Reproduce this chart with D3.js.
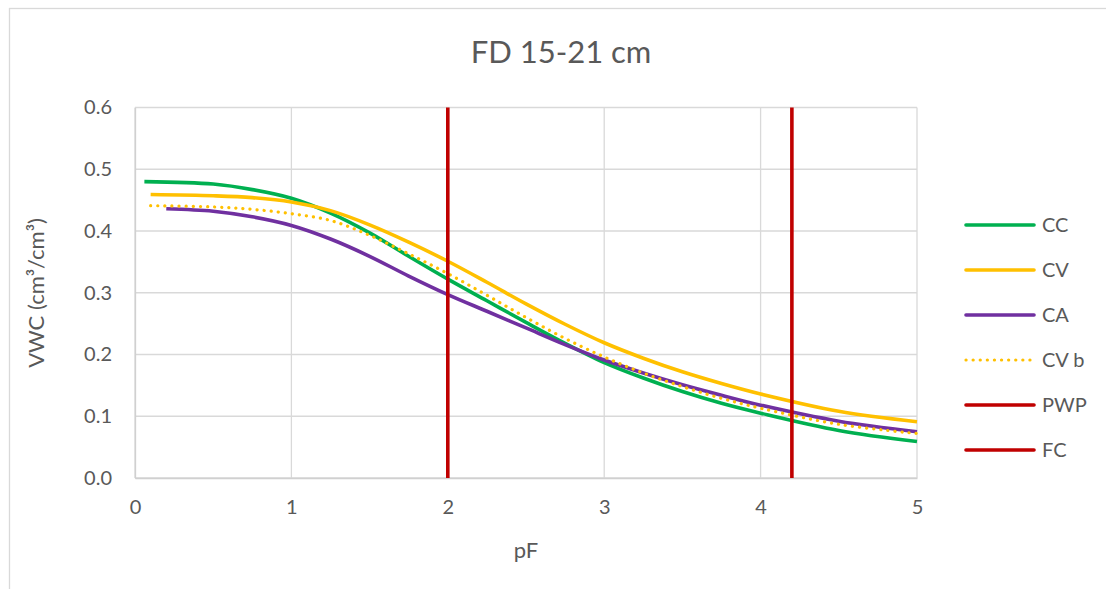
<!DOCTYPE html>
<html><head><meta charset="utf-8">
<script src="https://cdn.jsdelivr.net/npm/d3@7"></script>
<style>
html,body{margin:0;padding:0;background:#fff;overflow:hidden;}
text{font-family:Lato,"Open Sans",sans-serif;fill:#595959;}
</style></head>
<body><svg id="c" width="1106" height="589"></svg>
<script>
const title = "FD 15-21 cm";
const xTicks = [0,1,2,3,4,5];
const yTicks = [0.0,0.1,0.2,0.3,0.4,0.5,0.6];

const ccPF  = [0.06,0.5,0.75,1.0,1.25,1.5,1.75,2.0,2.25,2.5,2.75,3.0,3.25,3.5,3.75,4.0,4.5,5.0];
const ccVWC = [0.480,0.476,0.467,0.453,0.429,0.397,0.359,0.322,0.287,0.252,0.218,0.187,0.162,0.140,0.121,0.105,0.077,0.059];

const cvPF  = [0.1,0.5,0.75,1.0,1.25,1.5,1.75,2.0,2.25,2.5,2.75,3.0,3.25,3.5,3.75,4.0,4.5,5.0];
const cvVWC = [0.459,0.457,0.454,0.447,0.433,0.410,0.382,0.351,0.317,0.282,0.249,0.219,0.194,0.172,0.153,0.136,0.108,0.091];

const caPF  = [0.2,0.5,0.75,1.0,1.25,1.5,1.75,2.0,2.25,2.5,2.75,3.0,3.25,3.5,3.75,4.0,4.5,5.0];
const caVWC = [0.436,0.432,0.423,0.409,0.387,0.359,0.327,0.297,0.270,0.243,0.216,0.191,0.170,0.151,0.134,0.118,0.092,0.075];

const cvbPF  = [0.1,0.5,0.75,1.0,1.25,1.5,1.75,2.0,2.25,2.5,2.75,3.0,3.25,3.5,3.75,4.0,4.5,5.0];
const cvbVWC = [0.441,0.439,0.435,0.428,0.417,0.393,0.363,0.331,0.296,0.260,0.226,0.196,0.170,0.148,0.129,0.113,0.087,0.072];

const pwpPF = [4.2,4.2];
const pwpVWC = [0,0.6];
const fcPF = [2,2];
const fcVWC = [0,0.6];

const seriesNames = ["CC","CV","CA","CV b","PWP","FC"];
const seriesColors = ["#00B050","#FFC000","#7030A0","#FFC000","#C00000","#C00000"];
const seriesDash = [null,null,null,"0.1 7",null,null];

const svg = d3.select("#c");
const L=135, R=917, T=107.5, B=478;
const x = d3.scaleLinear().domain([0,5]).range([L,R]);
const y = d3.scaleLinear().domain([0,0.6]).range([B,T]);

// outer chart border
svg.append("rect").attr("x",9.5).attr("y",8.5).attr("width",1120).attr("height",620)
  .attr("fill","none").attr("stroke","#d9d9d9").attr("stroke-width",1.3);

// gridlines
svg.append("g").selectAll("line").data(yTicks).join("line")
  .attr("x1",L).attr("x2",R).attr("y1",d=>y(d)).attr("y2",d=>y(d))
  .attr("stroke","#d9d9d9").attr("stroke-width",1.3);
svg.append("g").selectAll("line").data(xTicks).join("line")
  .attr("y1",T).attr("y2",B).attr("x1",d=>x(d)).attr("x2",d=>x(d))
  .attr("stroke","#d9d9d9").attr("stroke-width",1.3);

// axes (labels only)
const yAxis = d3.axisLeft(y).tickValues(yTicks).tickFormat(d3.format(".1f")).tickSize(0).tickPadding(23);
const gy = svg.append("g").attr("transform",`translate(${L},0)`).call(yAxis);
gy.select(".domain").attr("stroke","#d0d0d0").attr("stroke-width",1.3);
gy.selectAll("text").style("font-size","20px").attr("fill","#595959");

const xAxis = d3.axisBottom(x).tickValues(xTicks).tickFormat(d3.format("d")).tickSize(0).tickPadding(22);
const gx = svg.append("g").attr("transform",`translate(0,${B})`).call(xAxis);
gx.select(".domain").attr("stroke","#d0d0d0").attr("stroke-width",1.3);
gx.selectAll("text").style("font-size","20px").attr("fill","#595959");

// series
const data = [
  d3.zip(ccPF,ccVWC), d3.zip(cvPF,cvVWC), d3.zip(caPF,caVWC),
  d3.zip(cvbPF,cvbVWC), d3.zip(pwpPF,pwpVWC), d3.zip(fcPF,fcVWC)
];
const line = d3.line().x(d=>x(d[0])).y(d=>y(d[1])).curve(d3.curveCatmullRom.alpha(0.5));
const vline = d3.line().x(d=>x(d[0])).y(d=>y(d[1]));
[0,1,2,3,4,5].forEach(i=>{
  const p = svg.append("path").datum(data[i])
    .attr("d", i>=4 ? vline : line)
    .attr("fill","none").attr("stroke",seriesColors[i])
    .attr("stroke-width", i===3 ? 3.2 : 3.6)
    .attr("stroke-linecap", i===3 ? "round" : "butt")
    .attr("stroke-linejoin","round");
  if (seriesDash[i]) p.attr("stroke-dasharray", seriesDash[i]);
});

// title
svg.append("text").attr("x",561).attr("y",63).attr("text-anchor","middle")
  .style("font-size","31px").text(title);

// axis titles
svg.append("text").attr("x",526).attr("y",558).attr("text-anchor","middle")
  .style("font-size","22px").text("pF");
svg.append("text").attr("transform","translate(44,293) rotate(-90)").attr("text-anchor","middle")
  .style("font-size","22px").text("VWC (cm³/cm³)");

// legend
const lg = svg.append("g");
seriesNames.forEach((n,i)=>{
  const yy = 225 + i*45;
  const l = lg.append("line").attr("x1",966).attr("x2",1034).attr("y1",yy).attr("y2",yy)
    .attr("stroke",seriesColors[i]).attr("stroke-width", i===3?3.2:3.6)
    .attr("stroke-linecap","round");
  if (seriesDash[i]) l.attr("stroke-dasharray", seriesDash[i]);
  lg.append("text").attr("x",1042).attr("y",yy).attr("dy","0.35em")
    .style("font-size","20px").text(n);
});
</script></body></html>
